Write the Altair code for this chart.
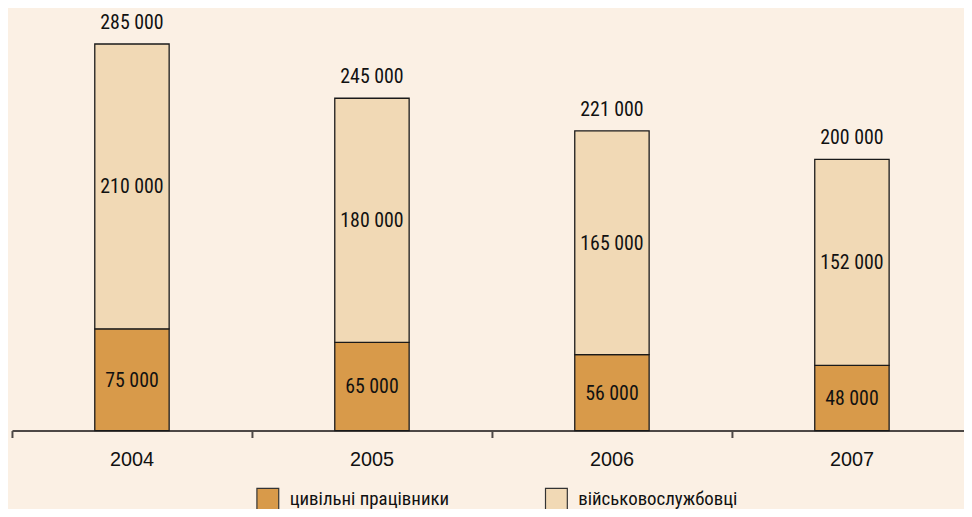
import altair as alt
import pandas as pd

years = ["2004", "2005", "2006", "2007"]
civil = [75000, 65000, 56000, 48000]
military = [210000, 180000, 165000, 152000]
totals = [285000, 245000, 221000, 200000]
series = ["цивільні працівники", "військовослужбовці"]
colors = ["#D89A4A", "#F1D9B5"]

rows = []
for i, y in enumerate(years):
    rows.append({"year": y, "series": series[0], "value": civil[i], "ord": 0})
    rows.append({"year": y, "series": series[1], "value": military[i], "ord": 1})
df = pd.DataFrame(rows)
tot = pd.DataFrame({"year": years, "total": totals})

def fmt(v):
    return f"{v:,}".replace(",", " ")

df["label"] = df["value"].map(fmt)
tot["label"] = tot["total"].map(fmt)

label_font = "Liberation Sans Narrow, Roboto Condensed, Roboto, sans-serif"

xenc = alt.X(
    "year:N",
    sort=years,
    title=None,
    scale=alt.Scale(range=[0, 968], paddingInner=0, paddingOuter=0),
    axis=alt.Axis(
        labelAngle=0,
        bandPosition=0,
        domainColor="#4d4846",
        domainWidth=2,
        tickColor="#4d4846",
        tickWidth=2,
        tickSize=7,
        labelFontSize=20,
        labelFont="Liberation Sans, Arial, sans-serif",
        labelColor="#111",
        labelPadding=12,
        labelAlign="center",
        grid=False,
    ),
)

yscale = alt.Scale(domain=[0, 310000], nice=False)

bars = alt.Chart(df).mark_bar(width=75, stroke="#1a1a1a", strokeWidth=1.3).encode(
    x=xenc,
    y=alt.Y("value:Q", stack="zero", scale=yscale, axis=None),
    color=alt.Color(
        "series:N",
        scale=alt.Scale(domain=series, range=colors),
        legend=alt.Legend(
            title=None,
            orient="none",
            direction="horizontal",
            legendX=246,
            legendY=481,
            symbolType="square",
            symbolSize=484,
            symbolStrokeColor="#333",
            symbolStrokeWidth=1.2,
            symbolOpacity=1,
            labelFontSize=19,
            labelFont=label_font,
            labelFontWeight="normal",
            labelColor="#111",
            labelOffset=10,
            columnPadding=94,
            labelLimit=300,
        ),
    ),
    order=alt.Order("ord:Q"),
)

seg_text = alt.Chart(df).transform_stack(
    stack="value", groupby=["year"], as_=["v0", "v1"], sort=[alt.SortField("ord")]
).transform_calculate(mid="(datum.v0 + datum.v1) / 2").mark_text(
    fontSize=20, font=label_font, fontWeight="normal", color="#111", dy=1
).encode(
    x=alt.X("year:N", sort=years),
    y=alt.Y("mid:Q", scale=yscale),
    text="label:N",
)

tot_text = alt.Chart(tot).mark_text(
    fontSize=20, font=label_font, fontWeight="normal", color="#111", dy=-21
).encode(
    x=alt.X("year:N", sort=years),
    y=alt.Y("total:Q", scale=yscale),
    text="label:N",
)

chart = alt.layer(bars, seg_text, tot_text).properties(
    width=960,
    height=424,
    background="#FBF0E4",
    padding={"left": 4, "top": 0, "right": 0, "bottom": 77},
    autosize=alt.AutoSizeParams(type="none"),
).configure_view(stroke=None)

chart.save("out.html", embed_options={"renderer": "svg", "actions": False})
